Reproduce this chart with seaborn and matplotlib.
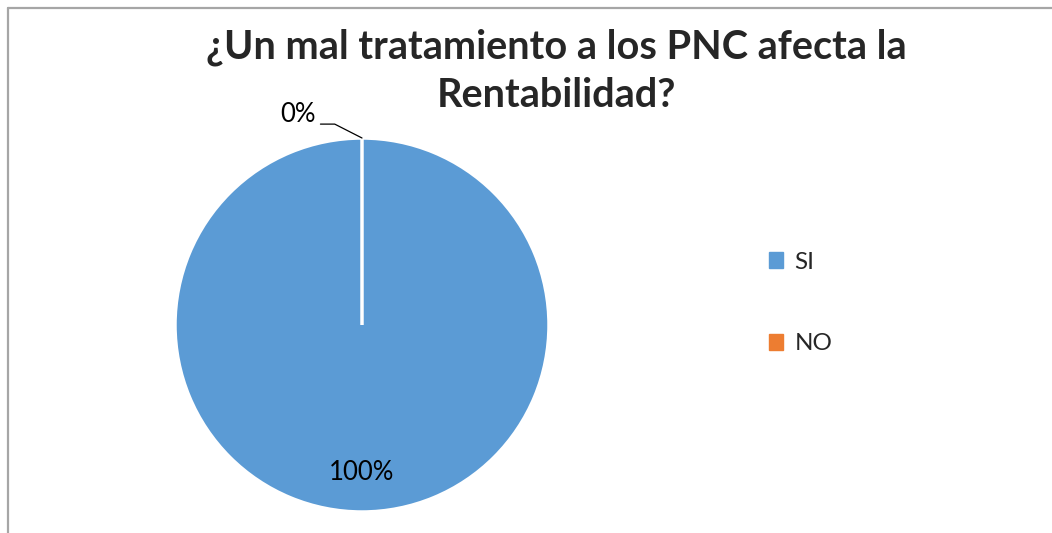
import matplotlib
matplotlib.use("Agg")
import matplotlib.pyplot as plt
import numpy as np
import seaborn as sns
from matplotlib.lines import Line2D
from matplotlib.patches import Patch

sns.set_style("white")
plt.rcParams["font.family"] = ["Lato", "DejaVu Sans"]

# --- data ---
categories = ["SI", "NO"]
values = [100, 0]
pct_labels = ["100%", "0%"]
colors = ["#5B9BD5", "#ED7D31"]
title_lines = ["¿Un mal tratamiento a los PNC afecta la", "Rentabilidad?"]

W, H = 1052, 533
fig = plt.figure(figsize=(W / 100, H / 100), dpi=100)

# pie axes: centre (362, 325) px, radius 187 px
r_px = 187
half = 1.25 * r_px
cx, cy = 362, H - 325
ax = fig.add_axes([(cx - half) / W, (cy - half) / H, 2 * half / W, 2 * half / H])
wedges, _ = ax.pie(values, colors=colors, startangle=90, counterclock=False,
                   wedgeprops=dict(edgecolor="white", linewidth=2.5))
ax.set_xlim(-1.25, 1.25)
ax.set_ylim(-1.25, 1.25)
ax.set_aspect("equal")
ax.axis("off")

# data labels
for w, lab in zip(wedges, pct_labels):
    mid = np.deg2rad((w.theta1 + w.theta2) / 2)
    if w.theta2 - w.theta1 > 1:
        ax.text(0.79 * np.cos(mid), 0.79 * np.sin(mid), lab,
                ha="center", va="center", fontsize=18.5, color="black")
    else:
        x0, y0 = np.cos(mid), np.sin(mid)
        ax.annotate(lab, xy=(x0, y0), xytext=(x0 - 0.245, y0 + 0.085),
                    ha="right", va="baseline", fontsize=18.5, color="black",
                    arrowprops=dict(arrowstyle="-", color="black", lw=0.9,
                                    shrinkA=0, shrinkB=0,
                                    connectionstyle="angle,angleA=0,angleB=-27,rad=0",
                                    relpos=(1.12, 0.12)))

# title, one text per line (baselines at 59 and 107 px from the top)
for line, base in zip(title_lines, [59, 107]):
    fig.text(556 / W, 1 - base / H, line, ha="center", va="baseline",
             fontsize=28.5, fontweight="bold")

handles = [Patch(facecolor=c, edgecolor=c) for c in colors]
fig.legend(handles, categories, loc="center left",
           bbox_to_anchor=(747 / W, 1 - 303 / H), frameon=False,
           fontsize=17.5, handlelength=0.6, handleheight=0.6,
           handletextpad=0.45, labelspacing=2.5)

# chart-area border (top and left edges visible)
border = dict(color="#A6A6A6", lw=1.6, transform=fig.transFigure)
fig.add_artist(Line2D([8 / W, 1], [1 - 8 / H, 1 - 8 / H], **border))
fig.add_artist(Line2D([8 / W, 8 / W], [0, 1 - 8 / H], **border))

fig.savefig("out.png", dpi=100, facecolor="white")
